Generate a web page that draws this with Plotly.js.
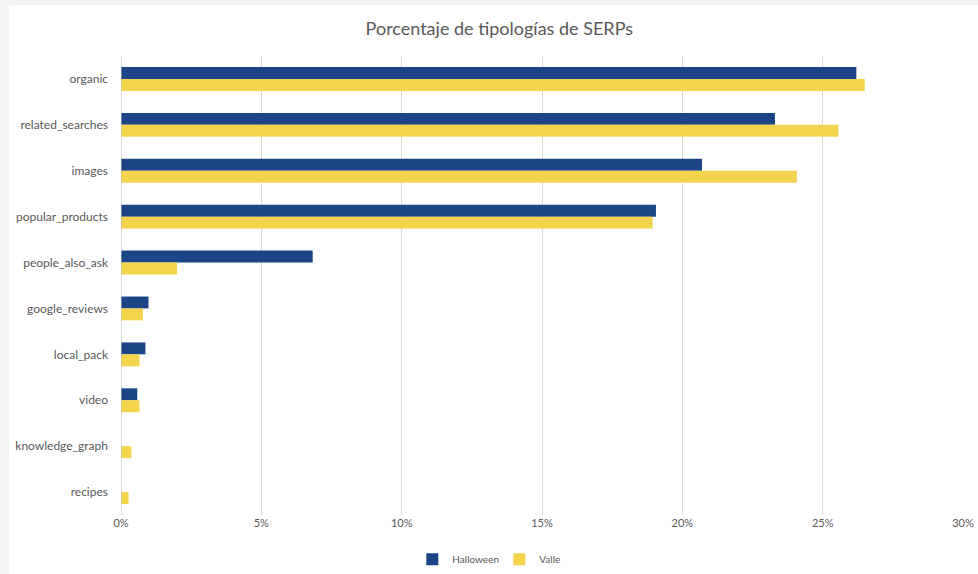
<!DOCTYPE html>
<html>
<head>
<meta charset="utf-8">
<script src="https://cdn.plot.ly/plotly-3.0.1.min.js"></script>
<style>
  html, body { margin: 0; padding: 0; background: #f2f3f5; }
  #chart { position: absolute; left: 9px; top: 5px; width: 969px; height: 569px; background: #fff; }
</style>
</head>
<body>
<div id="chart"></div>
<script>
// tipos de SERP, de arriba abajo
let categorias = ['organic', 'related_searches', 'images', 'popular_products', 'people_also_ask',
                  'google_reviews', 'local_pack', 'video', 'knowledge_graph', 'recipes'];

let halloween = [0.262, 0.233, 0.207, 0.1906, 0.0683, 0.0098, 0.0087, 0.0058, 0, 0];
let valle     = [0.265, 0.2556, 0.2408, 0.1894, 0.020, 0.0078, 0.0066, 0.0066, 0.0037, 0.0027];

let ticksX = [0, 0.05, 0.10, 0.15, 0.20, 0.25, 0.30];

let data = [
  {
    type: 'bar',
    orientation: 'h',
    name: 'Halloween',
    y: categorias,
    x: halloween,
    marker: { color: '#1c4587' },
    hoverinfo: 'x+y'
  },
  {
    type: 'bar',
    orientation: 'h',
    name: 'Valle',
    y: categorias,
    x: valle,
    marker: { color: '#f4d44d' },
    hoverinfo: 'x+y'
  }
];

var layout = {
  width: 969,
  height: 569,
  paper_bgcolor: '#ffffff',
  plot_bgcolor: '#ffffff',
  font: { family: 'Lato, sans-serif', size: 11, color: '#595959' },
  margin: { l: 112, r: 15, t: 51, b: 59 },
  barmode: 'group',
  bargap: 0.48,
  bargroupgap: 0,
  title: {
    text: 'Porcentaje de tipologías de SERPs',
    font: { family: 'Lato, sans-serif', size: 18, color: '#595959' },
    xref: 'container',
    x: 0.506,
    y: 0.958,
    yanchor: 'middle'
  },
  xaxis: {
    range: [0, 0.30],
    tickvals: ticksX,
    tickformat: '.0%',
    showgrid: true,
    gridcolor: '#d9d9d9',
    gridwidth: 1,
    zeroline: false,
    showline: false,
    ticks: '',
    tickfont: { size: 11, color: '#595959' }
  },
  yaxis: {
    autorange: 'reversed',
    showgrid: false,
    zeroline: false,
    showline: false,
    ticks: '',
    ticklabelstandoff: 12,
    tickfont: { size: 12, color: '#595959' }
  },
  shapes: [
    { type: 'line', xref: 'x', yref: 'paper', x0: 0, x1: 0, y0: 0, y1: 1,
      line: { color: '#bfbfbf', width: 1 } }
  ],
  legend: {
    orientation: 'h',
    x: 0.506,
    xref: 'container',
    xanchor: 'center',
    y: 0.026,
    yref: 'container',
    yanchor: 'middle',
    font: { size: 10, color: '#595959' },
    itemwidth: 30,
    entrywidth: 42,
    traceorder: 'normal'
  },
  showlegend: true
};

Plotly.newPlot('chart', data, layout, { displayModeBar: false, responsive: false });
</script>
</body>
</html>
